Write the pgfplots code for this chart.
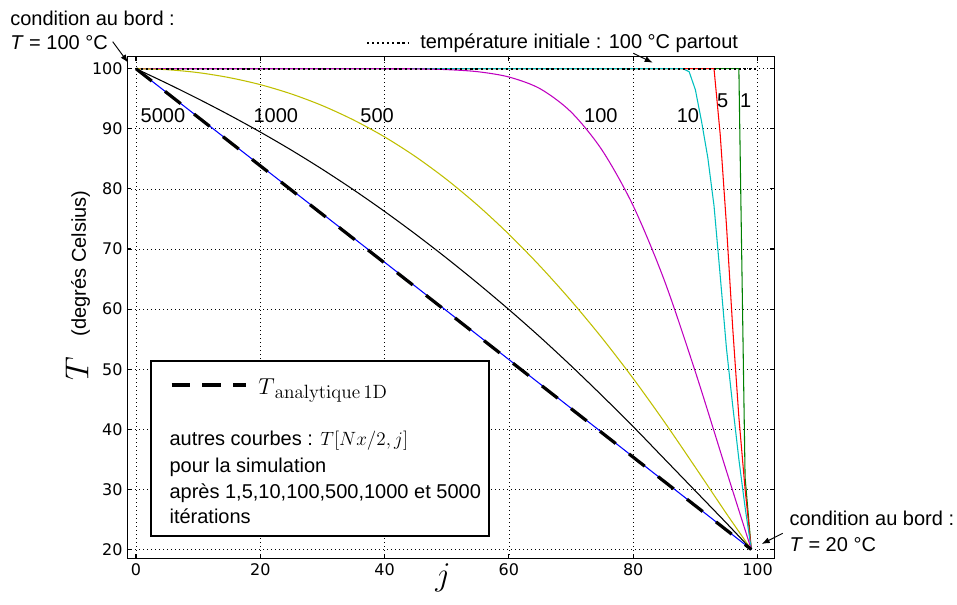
\documentclass[border=0pt]{standalone}
\usepackage{pgfplots}
\pgfplotsset{compat=1.18}
\usepackage[no-math]{fontspec}
\setmainfont{Liberation Sans}
\newfontfamily\tickfont{DejaVu Sans}
\usetikzlibrary{arrows.meta}

\definecolor{mplb}{rgb}{0,0,1}
\definecolor{mplg}{rgb}{0,0.5,0}
\definecolor{mplr}{rgb}{1,0,0}
\definecolor{mplc}{rgb}{0,0.75,0.75}
\definecolor{mplm}{rgb}{0.75,0,0.75}
\definecolor{mply}{rgb}{0.75,0.75,0}

\begin{document}
\begin{tikzpicture}[x=0.75pt,y=0.75pt,font=\fontsize{15}{18}\selectfont,
  arr/.style={-{Latex[length=6pt,width=4.5pt]}, line width=0.7pt}]
\begin{axis}[
  at={(0,0)}, anchor=south west,
  scale only axis,
  width=485.25pt, height=376.35pt,
  xmin=-1.4, xmax=102.7,
  ymin=18.5, ymax=102,
  xtick={0,20,...,100},
  ytick={20,30,...,100},
  grid=major,
  major grid style={black, line width=0.5pt, dash pattern=on 0.7pt off 2.3pt},
  axis line style={line width=1.1pt},
  tick style={black, line width=0.8pt},
  major tick length=3pt,
  tick align=inside,
  ticklabel style={font=\tickfont\fontsize{12}{14}\selectfont},
  /pgf/number format/assume math mode=true,
  every axis plot/.append style={line width=0.8pt, line join=round},
]
% 1 iteration
\addplot[mplg] coordinates {(0,100) (97,100) (98,32) (99,20)};
% 5 iterations
\addplot[mplr] coordinates {(0,100) (93,100) (94,89) (95,74) (96,57) (97,42) (98,30) (99,20)};
% 10 iterations
\addplot[mplc] coordinates {(0,100) (88,100) (89,99.5) (90,96.5) (91,91.2) (92,85.2)
  (93,77.2) (94,65.5) (95,53.5) (96,44) (97,35) (98,27) (99,20)};
% 100 iterations
\addplot[mplm, smooth, tension=0.5] coordinates {(0,100) (40,100) (45,99.97) (50,99.85)
  (55,99.5) (60,98.62) (65,96.68) (70,92.8) (75,86.43) (80,77.18) (85,64.8)
  (90,49.56) (95,33.06) (99,20)};
% 500 iterations
\addplot[mply, smooth, tension=0.5] coordinates {(0,100) (5,99.84) (10,99.35) (15,98.52)
  (20,97.35) (25,95.8) (30,93.85) (35,91.47) (40,88.65) (45,85.35) (50,81.55)
  (55,77.25) (60,72.45) (65,67.16) (70,61.4) (75,55.17) (80,48.45) (85,41.25)
  (90,33.67) (95,25.97) (99,20)};
% 1000 iterations
\addplot[black, smooth, tension=0.5] coordinates {(0,100) (5,97.55) (10,94.99) (15,92.3)
  (20,89.46) (25,86.45) (30,83.25) (35,79.85) (40,76.25) (45,72.45) (50,68.46)
  (55,64.28) (60,59.92) (65,55.36) (70,50.57) (75,45.58) (80,40.44) (85,35.09)
  (90,29.74) (95,24.39) (99,20)};
% 5000 iterations
\addplot[mplb] coordinates {(0,100) (20,83.9) (40,67.8) (60,51.6) (80,35.4) (99,20)};
% analytical 1D solution
\addplot[black, line width=2.4pt, dash pattern=on 15pt off 12.6pt] coordinates {(0,100) (99,20)};
% initial temperature
\addplot[black, line width=1.6pt, dash pattern=on 1.6pt off 2.2pt] coordinates {(0,100) (100,100)};

% iteration counts
\node at (axis cs:4.33,92.2) {5000};
\node at (axis cs:22.5,92.2) {1000};
\node at (axis cs:38.8,92.2) {500};
\node at (axis cs:74.8,92.2) {100};
\node at (axis cs:88.8,92.2) {10};
\node at (axis cs:94.4,94.7) {5};
\node at (axis cs:98.1,94.7) {1};
\end{axis}

% axis labels
\node[rotate=90, font=\fontsize{27}{30}\selectfont] at (-50.3,189.5) {$T$};
\node[rotate=90] at (-46.8,295.2) {(degrés Celsius)};
\node[font=\fontsize{27}{30}\selectfont] at (315.7,-19.5) {$j$};

% boundary condition, left
\node[anchor=base west, inner sep=0pt] at (-117.3,532.5) {condition au bord :};
\node[anchor=base west, inner sep=0pt] at (-117.3,508.5) {\textit{T} = 100 °C};
\draw[arr] (-14.6,516.8) -- (0.7,496);

% initial temperature key
\draw[black, line width=1.6pt, dash pattern=on 1.6pt off 2.2pt] (239.7,515.8) -- (280.7,515.8);
\node[anchor=base west, inner sep=0pt] at (292.7,510.2) {température initiale : 100 °C partout};
\draw[arr] (506,505.2) -- (525.4,495.8);

% boundary condition, right
\node[anchor=base west, inner sep=0pt] at (662,32.8) {condition au bord :};
\node[anchor=base west, inner sep=0pt] at (662,6.8) {\textit{T} = 20 °C};
\draw[arr] (655.4,25.2) -- (634.4,14.5);

% key box
\draw[black, line width=1.4pt, fill=white] (23.4,22.5) rectangle (362,197.8);
\draw[black, line width=2.4pt, dash pattern=on 14pt off 9pt] (44.4,173.5) -- (118.7,173.5);
\node[anchor=base west, inner sep=0pt, font=\fontsize{18}{20}\selectfont] at (130.7,164)
  {$T$\raisebox{-3pt}{\fontsize{15.5}{16}\selectfont$\mathrm{analytique\,1D}$}};
\node[anchor=base west, inner sep=0pt] at (42,112.5) {autres courbes : $T[Nx/2,j]$};
\node[anchor=base west, inner sep=0pt] at (42,85.5) {pour la simulation};
\node[anchor=base west, inner sep=0pt] at (42,60) {après 1,5,10,100,500,1000 et 5000};
\node[anchor=base west, inner sep=0pt] at (42,35) {itérations};

\pgfresetboundingbox
\useasboundingbox (-127.3,-46.5) rectangle (829.7,558.5);
\end{tikzpicture}
\end{document}
